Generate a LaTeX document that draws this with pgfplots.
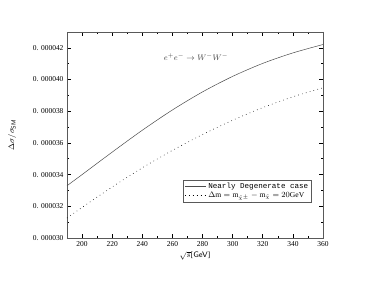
\documentclass[border=0pt]{standalone}
\usepackage{pgfplots}
\pgfplotsset{compat=1.18}
\usepackage{fontspec}
\setmainfont{Liberation Serif}
\setmonofont{Liberation Mono}
\begin{document}
\begin{tikzpicture}
\begin{axis}[
  scale only axis,
  width=256bp, height=206bp,
  xmin=190, xmax=360,
  ymin=3.0e-5, ymax=4.3e-5,
  xtick={200,220,...,360},
  minor x tick num=1,
  ytick={3.0e-5,3.2e-5,3.4e-5,3.6e-5,3.8e-5,4.0e-5,4.2e-5},
  yticklabels={0. 000030,0. 000032,0. 000034,0. 000036,0. 000038,0. 000040,0. 000042},
  minor y tick num=1,
  scaled y ticks=false,
  tick align=inside,
  major tick length=4bp,
  minor tick length=2bp,
  axis line style={gray!70!black, line width=0.9pt},
  every tick/.style={black, line width=0.6pt},
  tick label style={font=\fontsize{7.5}{8}\selectfont},
  /pgf/number format/assume math mode=true,
  xlabel={$\sqrt{s}$[\textsf{GeV}]},
  ylabel={$\Delta\sigma/\sigma_{\mathsf{SM}}$},
  label style={font=\fontsize{8}{9}\selectfont},
  xlabel style={yshift=2bp},
  ylabel style={yshift=10bp},
  legend style={at={(rel axis cs:0.955,0.282)}, anchor=north east,
    font=\fontsize{7.6}{8}\selectfont, draw=gray!70!black, inner sep=1pt,
    row sep=-2pt, cells={anchor=west}},
  legend image code/.code={\draw[#1] (-0.05cm,0cm) -- (0.7cm,0cm);},
]
\addplot[gray!60!black, line width=0.5pt, smooth] coordinates {
(190,3.330e-5) (200,3.400e-5) (220,3.542e-5) (240,3.680e-5) (260,3.808e-5)
(280,3.922e-5) (300,4.020e-5) (320,4.102e-5) (340,4.168e-5) (360,4.221e-5)};
\addlegendentry{\ttfamily Nearly Degenerate case}
\addplot[black, dash pattern=on 0.6pt off 3.4pt, line width=0.6pt, smooth] coordinates {
(190,3.126e-5) (200,3.193e-5) (220,3.322e-5) (240,3.443e-5) (260,3.553e-5)
(280,3.653e-5) (300,3.743e-5) (320,3.823e-5) (340,3.891e-5) (360,3.948e-5)};
\addlegendentry{$\Delta\mathrm{m}=\mathrm{m}_{\tilde\chi^{\pm}}-\mathrm{m}_{\tilde\chi}=20\mathrm{GeV}$}
\node[font=\fontsize{8}{9}\selectfont, gray!50!black] at (rel axis cs:0.504,0.879) {$e^{+}e^{-}\rightarrow W^{-}W^{-}$};
\end{axis}
\pgfresetboundingbox
\path[use as bounding box] (current axis.south west) ++(-67bp,-48bp) rectangle ++(374bp,286bp);
\end{tikzpicture}
\end{document}
